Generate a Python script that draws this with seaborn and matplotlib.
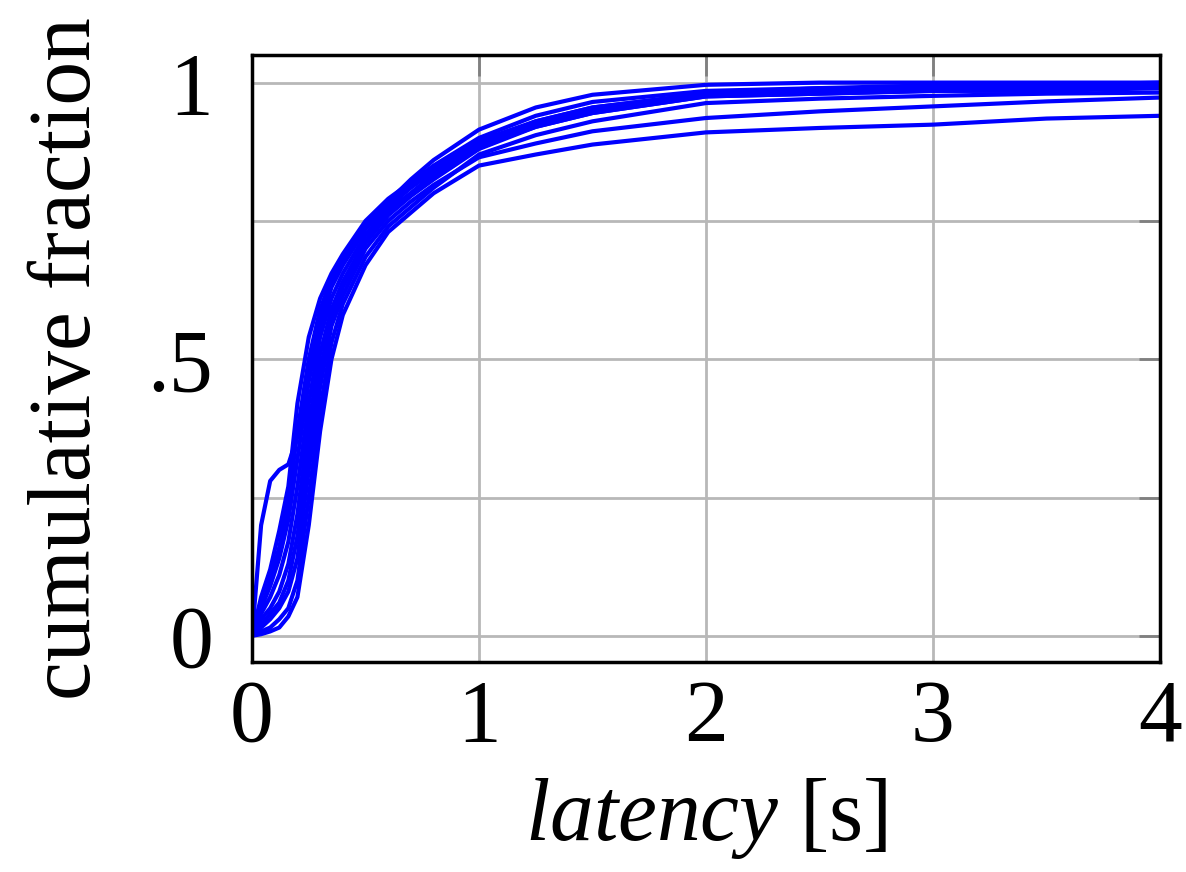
import numpy as np
import pandas as pd
import matplotlib
matplotlib.use("Agg")
import matplotlib.pyplot as plt
import seaborn as sns

# latency grid [s] shared by all runs
latency = [0, .04, .08, .12, .16, .2, .25, .3, .35, .4, .5, .6, .7, .8,
           1.0, 1.25, 1.5, 2.0, 2.5, 3.0, 3.5, 4.0]

# cumulative fraction for each run
run1 = [0, .20, .28, .30, .31, .36, .49, .58, .64, .675, .74, .78, .815, .845, .89, .93, .955, .98, .985, .99, .99, .995]
run2 = [0, .003, .008, .015, .035, .07, .20, .37, .50, .58, .67, .73, .765, .80, .85, .87, .888, .91, .918, .924, .935, .94]
run3 = [0, .05, .10, .16, .24, .37, .50, .59, .645, .68, .745, .785, .825, .86, .915, .955, .978, .996, 1.0, 1.0, 1.0, 1.0]
run4 = [0, .03, .05, .08, .13, .22, .38, .51, .59, .64, .715, .765, .80, .83, .885, .925, .95, .98, .99, .995, .995, 1.0]
run5 = [0, .015, .03, .05, .08, .14, .30, .45, .56, .615, .70, .75, .785, .815, .865, .89, .912, .936, .948, .957, .966, .973]
run6 = [0, .05, .09, .14, .21, .32, .46, .56, .63, .67, .735, .775, .81, .84, .895, .93, .955, .98, .985, .99, .995, .995]
run7 = [0, .008, .015, .03, .05, .10, .25, .41, .53, .60, .685, .74, .775, .81, .87, .905, .93, .963, .971, .976, .98, .982]
run8 = [0, .07, .12, .19, .27, .42, .54, .61, .655, .69, .75, .79, .82, .85, .90, .94, .965, .985, .99, .99, .995, .995]
run9 = [0, .02, .04, .06, .10, .18, .34, .48, .575, .63, .71, .76, .795, .825, .88, .92, .945, .975, .98, .985, .99, .99]
run10 = [0, .04, .07, .11, .17, .27, .42, .54, .61, .655, .725, .77, .80, .835, .885, .92, .945, .975, .98, .985, .985, .99]

runs = [run1, run2, run3, run4, run5, run6, run7, run8, run9, run10]

rows = []
for i, r in enumerate(runs):
    for x, y in zip(latency, r):
        rows.append({"run": i, "latency": x, "frac": y})
df = pd.DataFrame(rows)

sns.set_style("white")
plt.rcParams["font.family"] = ["Liberation Serif", "DejaVu Serif"]
plt.rcParams["mathtext.fontset"] = "custom"
plt.rcParams["mathtext.rm"] = "Liberation Serif"
plt.rcParams["mathtext.it"] = "Liberation Serif:italic"
plt.rcParams["text.color"] = "black"
plt.rcParams["axes.labelcolor"] = "black"
plt.rcParams["xtick.labelcolor"] = "black"
plt.rcParams["ytick.labelcolor"] = "black"

fig = plt.figure(figsize=(11.86, 8.72), dpi=100)
ax = fig.add_axes([0.2125, 0.241, 0.7655, 0.696])

sns.lineplot(data=df, x="latency", y="frac", units="run", estimator=None,
             color="#0000ff", linewidth=3.0, ax=ax)

ax.set_xlim(0, 4)
ax.set_ylim(-0.047, 1.05)
ax.set_xticks([0, 1, 2, 3, 4])
ax.set_xticklabels(["0", "1", "2", "3", "4"])
ax.set_yticks([0, .25, .5, .75, 1])
ax.set_yticklabels(["0", "", ".5", "", "1"])
ax.grid(True, color="#b8b8b8", linewidth=2)
ax.tick_params(direction="in", length=15, width=2, color="#808080",
               top=True, right=True, labelsize=63)
ax.tick_params(axis="x", pad=12)
ax.tick_params(axis="y", pad=28)
for s in ax.spines.values():
    s.set_color("black")
    s.set_linewidth(2.5)

ax.set_xlabel(r"$\mathit{latency}$ [s]", fontsize=63, labelpad=12)
ax.set_ylabel("cumulative fraction", fontsize=63, labelpad=28)

fig.savefig("out.png", dpi=100)
